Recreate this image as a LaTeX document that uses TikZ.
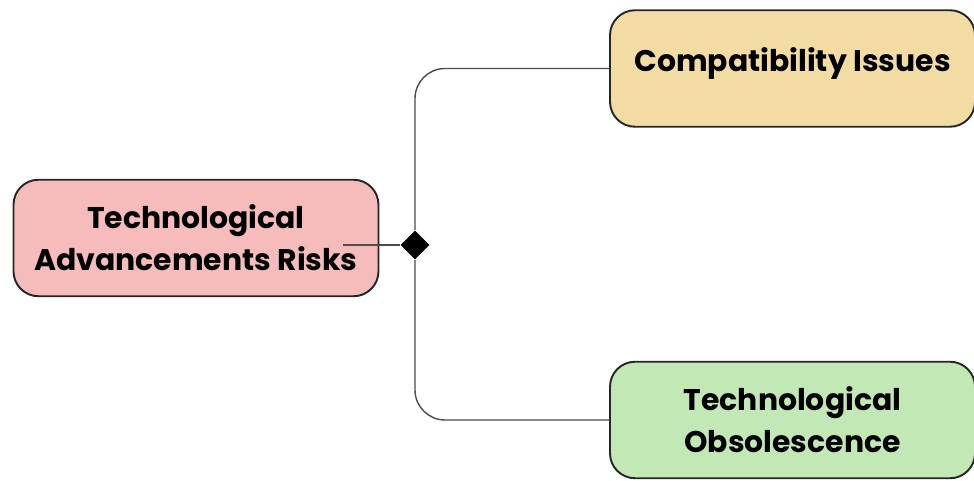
\documentclass[tikz,border=0pt]{standalone}
\usepackage{fontspec}
\setmainfont{Poppins}[BoldFont={* Bold}]
\usetikzlibrary{shapes.geometric}

\definecolor{riskpink}{RGB}{246,187,187}
\definecolor{compatyellow}{RGB}{243,220,164}
\definecolor{obsolgreen}{RGB}{194,233,181}

\tikzset{
    topic/.style={draw=black!85, line width=1.1pt, rounded corners=0.5cm,
        align=center, font=\fontsize{17}{24}\selectfont\bfseries,
        minimum width=7.3cm, minimum height=2.33cm, inner sep=0pt},
    branch/.style={draw=black!70, line width=0.8pt, rounded corners=0.6cm}
}

\begin{document}
\begin{tikzpicture}
    \useasboundingbox (0,0) rectangle (19.48,9.62);

    \node[topic, fill=riskpink] (risk) at (3.92,4.86) {Technological\\Advancements Risks};
    \node[topic, fill=compatyellow, text depth=1em] (compat) at (15.85,8.25) {Compatibility Issues};
    \node[topic, fill=obsolgreen] (obsol) at (15.85,1.22) {Technological\\Obsolescence};

    \coordinate (stub) at (6.86,4.72);
    \node[diamond, fill=black, inner sep=0pt, minimum size=0.58cm] (hub) at (8.30,4.72) {};

    \draw[branch] (stub) -- (hub);
    \draw[branch] (hub) |- (compat.west);
    \draw[branch] (hub) |- (obsol.west);

\end{tikzpicture}
\end{document}
